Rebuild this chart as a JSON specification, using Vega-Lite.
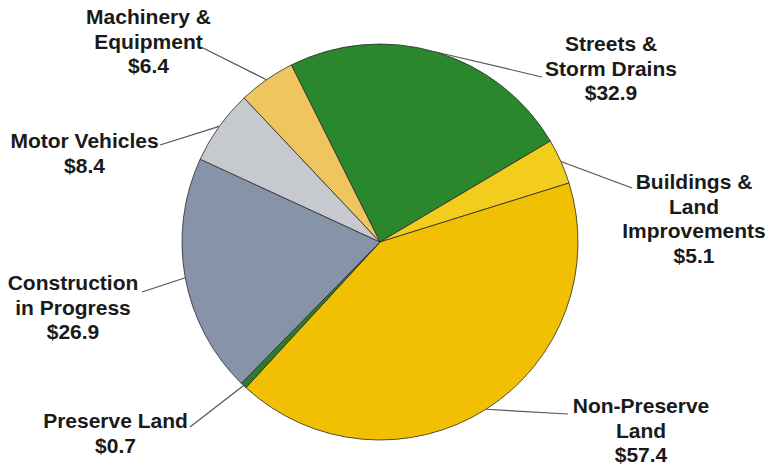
{
  "$schema": "https://vega.github.io/schema/vega-lite/v6.json",
  "width": 760,
  "height": 452,
  "padding": {"left": 0, "top": 16, "right": 10, "bottom": 0},
  "autosize": {"type": "none"},
  "background": "white",
  "config": {"view": {"stroke": null}},
  "data": {
    "values": [
      {"category": "Streets & Storm Drains", "label": "Streets &\nStorm Drains", "value": 32.9},
      {"category": "Buildings & Land Improvements", "label": "Buildings &\nLand\nImprovements", "value": 5.1},
      {"category": "Non-Preserve Land", "label": "Non-Preserve\nLand", "value": 57.4},
      {"category": "Preserve Land", "label": "Preserve Land", "value": 0.7},
      {"category": "Construction in Progress", "label": "Construction\nin Progress", "value": 26.9},
      {"category": "Motor Vehicles", "label": "Motor Vehicles", "value": 8.4},
      {"category": "Machinery & Equipment", "label": "Machinery &\nEquipment", "value": 6.4}
    ]
  },
  "transform": [
    {"window": [{"op": "sum", "field": "value", "as": "cum"}], "frame": [null, 0]},
    {"joinaggregate": [{"op": "sum", "field": "value", "as": "total"}]},
    {"calculate": "datum.cum - datum.value", "as": "start"},
    {"calculate": "-0.4643 + 2 * PI * (datum.cum - datum.value / 2) / datum.total", "as": "mid"},
    {"calculate": "198 * sin(datum.mid)", "as": "ex"},
    {"calculate": "-198 * cos(datum.mid)", "as": "ey"},
    {"calculate": "{'Streets & Storm Drains': 162, 'Buildings & Land Improvements': 252, 'Non-Preserve Land': 188, 'Preserve Land': -190, 'Construction in Progress': -238, 'Motor Vehicles': -220, 'Machinery & Equipment': -177}[datum.category]", "as": "lex"},
    {"calculate": "{'Streets & Storm Drains': -165, 'Buildings & Land Improvements': -54, 'Non-Preserve Land': 172, 'Preserve Land': 185, 'Construction in Progress': 50, 'Motor Vehicles': -97, 'Machinery & Equipment': -194}[datum.category]", "as": "ley"},
    {"calculate": "{'Streets & Storm Drains': 231, 'Buildings & Land Improvements': 314, 'Non-Preserve Land': 261, 'Preserve Land': -264.5, 'Construction in Progress': -307, 'Motor Vehicles': -295.5, 'Machinery & Equipment': -231.5}[datum.category]", "as": "lx"},
    {"calculate": "{'Streets & Storm Drains': -197, 'Buildings & Land Improvements': -59, 'Non-Preserve Land': 165, 'Preserve Land': 180, 'Construction in Progress': 42, 'Motor Vehicles': -100, 'Machinery & Equipment': -224}[datum.category]", "as": "ly"},
    {"calculate": "datum.label + '\\n$' + format(datum.value, '.1f')", "as": "labelText"}
  ],
  "layer": [
    {
      "mark": {"type": "arc", "outerRadius": 198, "stroke": "#2a2a2a", "strokeWidth": 0.8},
      "encoding": {
        "theta": {"field": "start", "type": "quantitative", "scale": {"domain": [0, 137.8], "range": [-0.4643, 5.8189]}},
        "theta2": {"field": "cum"},
        "color": {
          "field": "category",
          "type": "nominal",
          "legend": null,
          "scale": {
            "domain": ["Streets & Storm Drains", "Buildings & Land Improvements", "Non-Preserve Land", "Preserve Land", "Construction in Progress", "Motor Vehicles", "Machinery & Equipment"],
            "range": ["#2a872c", "#f2cd1e", "#f2c002", "#2d7c2d", "#8793a8", "#c6cacf", "#efc560"]
          }
        }
      }
    },
    {
      "mark": {"type": "rule", "color": "#555555", "strokeWidth": 1.2},
      "encoding": {
        "x": {"field": "ex", "type": "quantitative", "axis": null, "scale": {"domain": [-380, 380], "nice": false, "zero": false}},
        "y": {"field": "ey", "type": "quantitative", "axis": null, "scale": {"domain": [-226, 226], "nice": false, "zero": false, "reverse": true}},
        "x2": {"field": "lex"},
        "y2": {"field": "ley"}
      }
    },
    {
      "mark": {"type": "text", "align": "center", "baseline": "middle", "lineBreak": "\n", "font": "Liberation Sans", "fontWeight": "bold", "fontSize": 21, "lineHeight": 24.5, "color": "#1a1a1a"},
      "encoding": {
        "x": {"field": "lx", "type": "quantitative"},
        "y": {"field": "ly", "type": "quantitative"},
        "text": {"field": "labelText"}
      }
    }
  ]
}
